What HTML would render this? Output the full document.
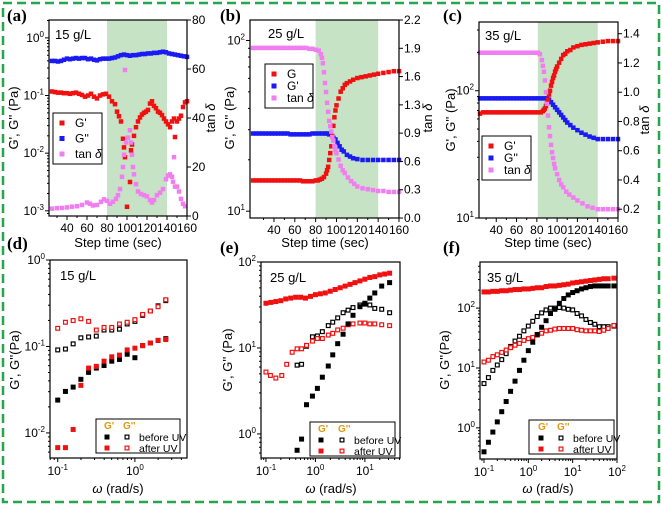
<!DOCTYPE html>
<html><head><meta charset="utf-8"><style>
html,body{margin:0;padding:0;background:#fff;}
svg{display:block;font-family:"Liberation Sans",sans-serif;}
</style></head><body>
<svg id="chart" width="662" height="505" viewBox="0 0 662 505"></svg>
<script>
// ---------- Panel (a) data: 15 g/L time sweep ----------
const aGpT=[25,28,31,34,37,40,43,46,49,52,55,58,61,64,67,70,73,76,79,82,85,88,90,92,94,96,97,98,100,103,104,105,107,109,111,113,115,117,119,121,123,125,127,129,131,133,135,137,139,141,143,145,147,148,150,152,154,156,158,160];
const aGpLog=[-0.93,-0.94,-0.95,-0.95,-0.96,-0.96,-0.97,-0.96,-0.95,-0.97,-0.99,-1.02,-1.0,-0.97,-1.02,-1.05,-1.0,-0.98,-0.97,-1.02,-1.1,-1.15,-1.28,-1.36,-1.45,-1.75,-1.9,-2.07,-2.93,-2.5,-1.95,-1.85,-1.7,-1.55,-1.45,-1.38,-1.33,-1.3,-1.28,-1.25,-1.14,-1.1,-1.18,-1.22,-1.28,-1.3,-1.34,-1.4,-1.45,-1.5,-1.55,-1.45,-1.4,-1.72,-1.45,-1.4,-1.35,-1.2,-1.12,-1.1];
const aGppT=[25,28,31,34,37,40,43,46,49,52,55,58,61,64,67,70,73,76,79,82,85,88,91,94,97,100,103,106,109,112,115,118,121,124,127,130,133,136,139,142,145,148,151,154,157,160];
const aGppLog=[-0.4,-0.4,-0.41,-0.4,-0.38,-0.36,-0.37,-0.36,-0.35,-0.36,-0.35,-0.35,-0.37,-0.36,-0.38,-0.39,-0.37,-0.36,-0.36,-0.36,-0.35,-0.34,-0.32,-0.3,-0.29,-0.3,-0.31,-0.3,-0.3,-0.29,-0.28,-0.28,-0.27,-0.27,-0.26,-0.26,-0.25,-0.24,-0.25,-0.27,-0.28,-0.29,-0.3,-0.31,-0.32,-0.33];
const aTanT=[25,30,35,40,45,50,55,60,63,66,70,74,77,80,83,86,89,91,93,95,96,97,98,99,101,103,104,105,106,107,109,111,114,117,120,123,125,127,130,133,136,139,141,143,145,146,147,148,150,152,154,156,158];
const aTan=[3.0,3.2,3.3,3.5,3.8,4.0,4.5,5.5,5.0,4.3,4.5,5.8,6.8,6.2,5.0,5.8,7.0,8.5,11,16,20,25,59.6,30,32,35,30,25,20,17,13,10,9,8.5,8,6.5,5.5,6.5,8.5,9.5,11,15,16.5,17,16,14,24,12,12,10,7,5,4];
// ---------- Panel (b) data: 25 g/L ----------
const bGpT=[20,23,26,29,32,35,38,41,44,47,50,53,56,59,62,65,68,71,74,77,80,82,84,86,88,90,91,92,93,94,95,96,97,98,99,100,102,104,106,108,110,113,116,120,124,128,132,136,140,145,150,155,160];
const bGpLog=[1.18,1.18,1.18,1.18,1.18,1.18,1.18,1.18,1.18,1.18,1.18,1.18,1.18,1.18,1.18,1.18,1.175,1.175,1.175,1.175,1.18,1.18,1.185,1.19,1.2,1.22,1.24,1.26,1.3,1.34,1.38,1.44,1.5,1.55,1.59,1.62,1.66,1.7,1.72,1.74,1.75,1.76,1.77,1.78,1.785,1.79,1.795,1.8,1.805,1.81,1.815,1.82,1.82];
const bGppT=[20,23,26,29,32,35,38,41,44,47,50,53,56,59,62,65,68,71,74,77,80,83,86,89,91,93,95,97,99,101,103,105,107,110,113,116,120,125,130,135,140,145,150,155,160];
const bGppLog=[1.455,1.455,1.455,1.455,1.455,1.455,1.455,1.455,1.455,1.455,1.455,1.455,1.45,1.45,1.45,1.45,1.45,1.45,1.45,1.455,1.455,1.455,1.455,1.455,1.455,1.45,1.45,1.43,1.42,1.4,1.38,1.36,1.35,1.33,1.32,1.31,1.305,1.3,1.3,1.3,1.3,1.3,1.3,1.3,1.3];
const bTanT=[20,23,26,29,32,35,38,41,44,47,50,53,56,59,62,65,68,71,74,77,80,83,85,86,87,88,89,90,91,92,93,94,95,96,97,98,99,100,102,104,106,108,111,114,117,120,125,130,135,140,145,150,155,160];
const bTan=[1.89,1.89,1.89,1.89,1.89,1.89,1.89,1.89,1.89,1.89,1.89,1.89,1.89,1.89,1.89,1.89,1.89,1.89,1.88,1.88,1.87,1.86,1.82,1.78,1.72,1.62,1.5,1.4,1.28,1.18,1.08,1.02,0.96,0.9,0.86,0.8,0.76,0.72,0.65,0.58,0.53,0.5,0.45,0.41,0.38,0.35,0.33,0.32,0.31,0.3,0.3,0.29,0.29,0.29];
// ---------- Panel (c) data: 35 g/L ----------
const cGpT=[24,27,30,33,36,39,42,45,48,51,54,57,60,63,66,69,72,75,78,81,84,86,87,88,89,90,91,92,93,94,95,96,97,98,99,100,102,104,106,108,110,113,116,120,124,128,132,136,140,145,150,155,160];
const cGpLog=[1.82,1.83,1.83,1.83,1.83,1.83,1.83,1.83,1.83,1.83,1.83,1.83,1.83,1.83,1.83,1.83,1.83,1.83,1.83,1.83,1.83,1.84,1.85,1.86,1.88,1.9,1.93,1.97,2.0,2.04,2.07,2.1,2.12,2.15,2.17,2.19,2.22,2.25,2.28,2.29,2.31,2.32,2.34,2.35,2.36,2.365,2.37,2.375,2.38,2.385,2.39,2.39,2.39];
const cGppT=[24,27,30,33,36,39,42,45,48,51,54,57,60,63,66,69,72,75,78,81,84,87,90,92,94,96,98,100,102,104,106,108,110,113,116,120,124,128,132,136,140,145,150,155,160];
const cGppLog=[1.94,1.94,1.94,1.94,1.94,1.94,1.94,1.94,1.94,1.94,1.94,1.94,1.94,1.94,1.94,1.94,1.94,1.94,1.94,1.94,1.94,1.94,1.94,1.93,1.91,1.89,1.87,1.85,1.83,1.81,1.79,1.77,1.75,1.73,1.71,1.69,1.67,1.655,1.64,1.63,1.62,1.62,1.62,1.62,1.62];
const cTanT=[24,27,30,33,36,39,42,45,48,51,54,57,60,63,66,69,72,75,78,81,83,85,86,87,88,89,90,91,92,93,94,95,96,97,98,100,102,104,106,109,112,116,120,125,130,135,140,145,150,155,160];
const cTan=[1.27,1.27,1.27,1.27,1.27,1.27,1.27,1.27,1.27,1.27,1.27,1.27,1.27,1.27,1.27,1.27,1.27,1.27,1.27,1.27,1.26,1.22,1.18,1.14,1.08,1.0,0.92,0.84,0.76,0.7,0.64,0.59,0.55,0.51,0.48,0.44,0.4,0.37,0.35,0.32,0.3,0.28,0.26,0.24,0.22,0.21,0.2,0.2,0.2,0.2,0.2];
// ---------- Panel (d) data: 15 g/L frequency sweep (log10 values) ----------
const dW=[-1.0,-0.9,-0.8,-0.7,-0.6,-0.5,-0.4,-0.3,-0.2,-0.1,0.0,0.1,0.2,0.3,0.4];
const dGpBefore=[-1.62,-1.52,-1.47,-1.38,-1.3,-1.25,-1.22,-1.17,-1.15,-1.09,-1.13,-0.99,-0.96,-0.93,-0.91];
const dGppBefore=[-1.04,-1.03,-0.97,-0.9,-0.89,-0.88,-0.81,-0.81,-0.8,-0.74,-0.71,-0.64,-0.59,-0.53,-0.47];
const dGpAfter=[-2.17,-2.17,-1.96,-1.45,-1.25,-1.23,-1.17,-1.12,-1.1,-1.04,-1.02,-0.99,-0.96,-0.93,-0.92];
const dGppAfter=[-0.79,-0.72,-0.7,-0.68,-0.71,-0.81,-0.78,-0.78,-0.74,-0.72,-0.69,-0.63,-0.59,-0.54,-0.46];
// ---------- Panel (e) data: 25 g/L ----------
const eW=[-1.0,-0.91,-0.8,-0.68,-0.58,-0.47,-0.37,-0.28,-0.18,-0.06,0.04,0.14,0.26,0.35,0.45,0.56,0.66,0.76,0.9,1.0,1.1,1.2,1.34,1.5];
const eGpBefore=[null,null,null,null,null,null,-0.19,-0.06,0.34,0.44,0.53,0.66,0.79,0.92,1.05,1.16,1.28,1.38,1.48,1.52,1.58,1.64,1.72,1.76];
const eGppBefore=[null,null,null,null,null,null,0.8,0.81,1.02,1.13,1.14,1.19,1.26,1.3,1.35,1.41,1.44,1.47,1.5,1.51,1.5,1.46,1.45,1.41];
const eGppAfter=[0.72,0.68,0.65,0.68,0.81,0.95,0.99,0.99,1.03,1.08,1.11,1.11,1.15,1.17,1.21,1.23,1.27,1.28,1.29,1.29,1.28,1.28,1.27,1.26];
const eWa=[-1.0,-0.9,-0.8,-0.7,-0.6,-0.5,-0.4,-0.3,-0.2,-0.1,0.0,0.1,0.2,0.3,0.4,0.5,0.6,0.7,0.8,0.9,1.0,1.1,1.2,1.3,1.4,1.5];
const eGpAfter=[1.52,1.53,1.54,1.55,1.57,1.58,1.59,1.59,1.58,1.6,1.62,1.63,1.64,1.66,1.68,1.7,1.72,1.74,1.76,1.78,1.8,1.82,1.83,1.85,1.86,1.87];
// ---------- Panel (f) data: 35 g/L ----------
const fW=[-1.0,-0.9,-0.8,-0.7,-0.6,-0.5,-0.4,-0.3,-0.2,-0.1,0.0,0.1,0.2,0.3,0.4,0.5,0.6,0.7,0.8,0.9,1.0,1.1,1.2,1.3,1.4,1.5,1.6,1.7,1.8,1.93];
const fGpBefore=[-0.4,-0.24,-0.07,0.1,0.27,0.44,0.61,0.78,0.96,1.13,1.29,1.43,1.56,1.68,1.79,1.91,1.98,2.08,2.16,2.22,2.26,2.29,2.32,2.34,2.36,2.37,2.37,2.37,2.37,2.37];
const fGppBefore=[0.74,0.84,0.96,1.05,1.14,1.24,1.36,1.45,1.53,1.62,1.7,1.78,1.86,1.92,1.97,2.0,2.0,2.01,2.0,1.98,1.97,1.91,1.87,1.81,1.76,1.73,1.69,1.69,1.69,1.7];
const fGpAfter=[2.27,2.27,2.28,2.28,2.29,2.29,2.3,2.31,2.31,2.32,2.32,2.33,2.34,2.34,2.36,2.37,2.37,2.38,2.39,2.4,2.42,2.43,2.44,2.45,2.46,2.47,2.48,2.49,2.49,2.5];
const fGppAfter=[1.1,1.13,1.19,1.22,1.26,1.3,1.34,1.38,1.41,1.46,1.49,1.51,1.55,1.58,1.62,1.63,1.65,1.66,1.66,1.66,1.66,1.64,1.63,1.62,1.62,1.62,1.61,1.63,1.66,1.71];
// ---------- tick values ----------
const tTicks=[40,60,80,100,120,140,160];
const aRightTicks=[0,20,40,60,80];
const bRightTicks=[0,0.3143,0.6286,0.9429,1.2571,1.5714,1.8857,2.2];
const bRightLabels=['0.0','0.3','0.6','0.9','1.3','1.6','1.9','2.2'];
const cRightTicks=[0.2,0.4,0.6,0.8,1.0,1.2,1.4];

const NS='http://www.w3.org/2000/svg';
const svg=document.getElementById('chart');
function mk(tag,attrs,name,parent){
  const e=document.createElementNS(NS,tag);
  for(const k in attrs) e.setAttribute(k,attrs[k]);
  
  
  (parent||svg).appendChild(e);
  return e;
}
function lin(d0,d1,r0,r1){return v=>r0+(v-d0)/(d1-d0)*(r1-r0);}
function txt(x,y,s,opt,name){
  const t=mk('text',Object.assign({x:x,y:y,'font-size':12,fill:'#000'},opt||{}),name);
  t.textContent=s; return t;
}
function pow10(x,y,exp,anchor,name){
  const t=mk('text',{x:x,y:y,'font-size':12,'text-anchor':anchor,fill:'#000'},name);
  t.appendChild(document.createTextNode('10'));
  const s=document.createElementNS(NS,'tspan');
  s.setAttribute('dy','-5');s.setAttribute('font-size','8');
  s.textContent=String(exp);t.appendChild(s);
  const s2=document.createElementNS(NS,'tspan');
  s2.setAttribute('dy','5');s2.setAttribute('font-size','12');s2.textContent='';t.appendChild(s2);
  return t;
}
function line(x1,y1,x2,y2,name,w){return mk('line',{x1:x1,y1:y1,x2:x2,y2:y2,stroke:'#000','stroke-width':w||1},name);}
function sq(x,y,s,fill,stroke,name,g){
  if(stroke) return mk('rect',{x:x-s/2+0.6,y:y-s/2+0.6,width:s-1.2,height:s-1.2,fill:'#fff',stroke:stroke,'stroke-width':1.2},name,g);
  return mk('rect',{x:x-s/2,y:y-s/2,width:s,height:s,fill:fill},name,g);
}
function series(xs,ys,sx,sy,fill,stroke,name,size,box){
  const g=mk('g',{},name);
  xs.forEach((v,i)=>{
    if(ys[i]===null||ys[i]===undefined) return;
    const X=sx(v),Y=sy(ys[i]);
    if(Y<box.y0-1||Y>box.y1+1) return;
    sq(X,Y,size,fill,stroke,name+'-point',g);
  });
}
function frame(b,name){mk('rect',{x:b.x0,y:b.y0,width:b.x1-b.x0,height:b.y1-b.y0,fill:'none',stroke:'#000','stroke-width':1.2},name);}
function logYAxis(b,sy,lo,hi,name){
  for(let d=Math.floor(lo);d<=Math.ceil(hi);d++){
    for(let m=1;m<10;m++){
      const v=d+Math.log10(m); if(v<lo||v>hi) continue;
      const y=sy(v);
      line(b.x0,y,b.x0-(m===1?4:2),y,name+'-tick');
      if(m===1) pow10(b.x0-5,y+4,d,'end',name+'-label');
    }
  }
}
function logXAxis(b,sx,lo,hi,name){
  for(let d=Math.floor(lo);d<=Math.ceil(hi);d++){
    for(let m=1;m<10;m++){
      const v=d+Math.log10(m); if(v<lo||v>hi) continue;
      const x=sx(v);
      line(x,b.y1,x,b.y1+(m===1?4:2),name+'-tick');
      if(m===1) pow10(x,b.y1+17,d,'middle',name+'-label');
    }
  }
}
function timeXAxis(b,sx,name){
  for(let t=30;t<=160;t+=10){const x=sx(t);line(x,b.y1,x,b.y1+(t%20===0?4:2),name+'-tick');}
  tTicks.forEach(t=>txt(sx(t),b.y1+16,String(t),{'text-anchor':'middle'},name+'-label'));
}
function rightAxis(b,sr,ticks,labels,name){
  line(b.x1,b.y0,b.x1,b.y1,name+'-line');
  ticks.forEach((v,i)=>{const y=sr(v);line(b.x1,y,b.x1+4,y,name+'-tick');
    txt(b.x1+5,y+4,labels?labels[i]:String(v),{},name+'-label');});
}
function vtitle(x,y,s,name,delta){
  const t=mk('text',{x:x,y:y,'font-size':13,'text-anchor':'middle',transform:'rotate(-90 '+x+' '+y+')'},name);
  t.textContent=s;
  if(delta){const ts=document.createElementNS(NS,'tspan');ts.setAttribute('font-style','italic');ts.textContent=' δ';t.appendChild(ts);}
}
function panelLabel(x,y,s,name){txt(x,y,s,{'font-size':17,'font-weight':'bold','font-family':'"Liberation Serif",serif'},name);}

// background + border
mk('rect',{x:0,y:0,width:662,height:505,fill:'#fff'},'background');
mk('rect',{x:3,y:3,width:656,height:499,fill:'none',stroke:'#22a848','stroke-width':2.5,'stroke-dasharray':'9,5'},'dashed-border');

const RED='#f01010',BLUE='#1a1af5',PINK='#f07ef0',SHADE='#c6e3c6';

function timePanel(b,xd,yd,rd,shadeFrom,shadeTo){
  const sx=lin(xd[0],xd[1],b.x0,b.x1), sy=lin(yd[0],yd[1],b.y1,b.y0), sr=lin(rd[0],rd[1],b.y1,b.y0);
  mk('rect',{x:sx(shadeFrom),y:b.y0,width:sx(shadeTo)-sx(shadeFrom),height:b.y1-b.y0,fill:SHADE},'uv-shaded-region');
  return {sx,sy,sr};
}
// ===== Panel a =====
const A={x0:49,x1:187,y0:20,y1:216};
let s=timePanel(A,[22,160],[-3.09,0.31],[0,80],80,140);
series(aGppT,aGppLog,s.sx,s.sy,BLUE,null,'a-loss-modulus',4.5,A);
series(aGpT,aGpLog,s.sx,s.sy,RED,null,'a-storage-modulus',4.5,A);
series(aTanT,aTan,s.sx,s.sr,PINK,null,'a-tan-delta',4.5,A);
frame(A,'a-plot-frame');
logYAxis(A,s.sy,-3.09,0.31,'a-y-axis');
timeXAxis(A,s.sx,'a-x-axis');
rightAxis(A,s.sr,aRightTicks,null,'a-right-axis');
// ===== Panel b =====
const B={x0:250,x1:399,y0:20,y1:218};
s=timePanel(B,[17,160],[0.96,2.12],[0,2.2],80,140);
series(bGppT,bGppLog,s.sx,s.sy,BLUE,null,'b-loss-modulus',4.5,B);
series(bGpT,bGpLog,s.sx,s.sy,RED,null,'b-storage-modulus',4.5,B);
series(bTanT,bTan,s.sx,s.sr,PINK,null,'b-tan-delta',4.5,B);
frame(B,'b-plot-frame');
logYAxis(B,s.sy,0.96,2.12,'b-y-axis');
timeXAxis(B,s.sx,'b-x-axis');
rightAxis(B,s.sr,bRightTicks,bRightLabels,'b-right-axis');
// ===== Panel c =====
const C={x0:479,x1:618,y0:22,y1:218};
s=timePanel(C,[23,160],[1.0,2.54],[0.14,1.48],81,140);
series(cGppT,cGppLog,s.sx,s.sy,BLUE,null,'c-loss-modulus',4.5,C);
series(cGpT,cGpLog,s.sx,s.sy,RED,null,'c-storage-modulus',4.5,C);
series(cTanT,cTan,s.sx,s.sr,PINK,null,'c-tan-delta',4.5,C);
frame(C,'c-plot-frame');
logYAxis(C,s.sy,1.0,2.54,'c-y-axis');
timeXAxis(C,s.sx,'c-x-axis');
rightAxis(C,s.sr,cRightTicks,['0.2','0.4','0.6','0.8','1.0','1.2','1.4'],'c-right-axis');

function freqPanel(b,xd,yd,sets){
  const sx=lin(xd[0],xd[1],b.x0,b.x1), sy=lin(yd[0],yd[1],b.y1,b.y0);
  sets.forEach(st=>series(st[0],st[1],sx,sy,st[2],st[3],st[4],5,b));
  frame(b,st_name(b));
  logYAxis(b,sy,yd[0],yd[1],b.n+'-y-axis');
  logXAxis(b,sx,xd[0],xd[1],b.n+'-x-axis');
}
function st_name(b){return b.n+'-plot-frame';}
const D={x0:50,x1:187,y0:260,y1:458,n:'d'};
freqPanel(D,[-1.10,0.675],[-2.29,0],[[dW,dGppBefore,null,'#000','d-gpp-before'],[dW,dGppAfter,null,RED,'d-gpp-after'],[dW,dGpBefore,'#000',null,'d-gp-before'],[dW,dGpAfter,RED,null,'d-gp-after']]);
const E={x0:261,x1:400,y0:262,y1:458,n:'e'};
freqPanel(E,[-1.1,1.71],[-0.28,2],[[eW,eGppBefore,null,'#000','e-gpp-before'],[eW,eGppAfter,null,RED,'e-gpp-after'],[eW,eGpBefore,'#000',null,'e-gp-before'],[eWa,eGpAfter,RED,null,'e-gp-after']]);
const F={x0:480,x1:617,y0:262,y1:459,n:'f'};
freqPanel(F,[-1.09,2],[-0.52,2.77],[[fW,fGppBefore,null,'#000','f-gpp-before'],[fW,fGppAfter,null,RED,'f-gpp-after'],[fW,fGpBefore,'#000',null,'f-gp-before'],[fW,fGpAfter,RED,null,'f-gp-after']]);

// legends top
function topLegend(x,y,w,h,rows,name){
  mk('rect',{x:x,y:y,width:w,height:h,fill:'#fff',stroke:'#000','stroke-width':1},name);
  rows.forEach((r,i)=>{const yy=y+10+i*(h-20)/2;
    sq(x+9,yy,5,r[0],null,name+'-marker');
    const t=txt(x+22,yy+4,r[1],{'font-size':12},name+'-entry');
    if(r[2]){const ts=document.createElementNS(NS,'tspan');ts.setAttribute('font-style','italic');ts.textContent=' δ';t.appendChild(ts);}
  });
}
topLegend(53,113,49,51,[[RED,"G'"],[BLUE,"G''"],[PINK,'tan',1]],'a-legend');
topLegend(265,64,48,44,[[RED,'G'],[BLUE,"G'"],[PINK,'tan',1]],'b-legend');
topLegend(482,136,49,44,[[RED,"G'"],[BLUE,"G''"],[PINK,'tan',1]],'c-legend');
function botLegend(x,y,w,c1,c2,tx,name){
  mk('rect',{x:x,y:y,width:w,height:34,fill:'#fff',stroke:'#000','stroke-width':1},name);
  txt(c1-3,y+10,"G'",{'font-size':10,fill:'#e09a10','font-weight':'bold'},name+'-header');
  txt(c2-4,y+10,"G''",{'font-size':10,fill:'#e09a10','font-weight':'bold'},name+'-header');
  sq(c1,y+18,5,'#000',null,name+'-marker');sq(c2,y+18,5,null,'#000',name+'-marker');
  sq(c1,y+29,5,RED,null,name+'-marker');sq(c2,y+29,5,null,RED,name+'-marker');
  txt(tx,y+22,'before UV',{'font-size':10.5},name+'-entry');
  txt(tx,y+33,'after UV',{'font-size':10.5},name+'-entry');
}
botLegend(96,419,84,107,127,139,'d-legend');
botLegend(310,422,85,321,342,354,'e-legend');
botLegend(529,420,85,541,561,573,'f-legend');

// titles
vtitle(18,118,"G', G'' (Pa)",'a-y-axis-title');
vtitle(215,118,'tan','a-right-axis-title',1);
vtitle(234,118,"G', G'' (Pa)",'b-y-axis-title');
vtitle(432,118,'tan','b-right-axis-title',1);
vtitle(455,120,"G', G'' (Pa)",'c-y-axis-title');
vtitle(649,120,'tan','c-right-axis-title',1);
vtitle(19,360,"G', G''(Pa)",'d-y-axis-title');
vtitle(232,360,"G', G'' (Pa)",'e-y-axis-title');
vtitle(449,360,"G', G''(Pa)",'f-y-axis-title');
[[118,A],[325,B],[548,C]].forEach((p,i)=>txt(p[0],247,'Step time (sec)',{'font-size':13,'text-anchor':'middle'},'x-axis-title-'+'abc'[i]));
[[118,D],[331,E],[548,F]].forEach((p,i)=>{
  const t=txt(p[0],493,'',{'font-size':13,'text-anchor':'middle'},'x-axis-title-'+'def'[i]);
  const w=document.createElementNS(NS,'tspan');w.setAttribute('font-style','italic');w.textContent='ω';t.appendChild(w);
  t.appendChild(document.createTextNode(' (rad/s)'));
});
// concentration labels
txt(55,39,'15 g/L',{'font-size':13},'a-concentration');
txt(268,38,'25 g/L',{'font-size':13},'b-concentration');
txt(485,40,'35 g/L',{'font-size':13},'c-concentration');
txt(60,280,'15 g/L',{'font-size':13},'d-concentration');
txt(270,282,'25 g/L',{'font-size':13},'e-concentration');
txt(487,282,'35 g/L',{'font-size':13},'f-concentration');
// panel letters
panelLabel(7,21,'(a)','panel-a-label');
panelLabel(220,21,'(b)','panel-b-label');
panelLabel(443,21,'(c)','panel-c-label');
panelLabel(7,249,'(d)','panel-d-label');
panelLabel(220,253,'(e)','panel-e-label');
panelLabel(443,253,'(f)','panel-f-label');
</script>
</body></html>
